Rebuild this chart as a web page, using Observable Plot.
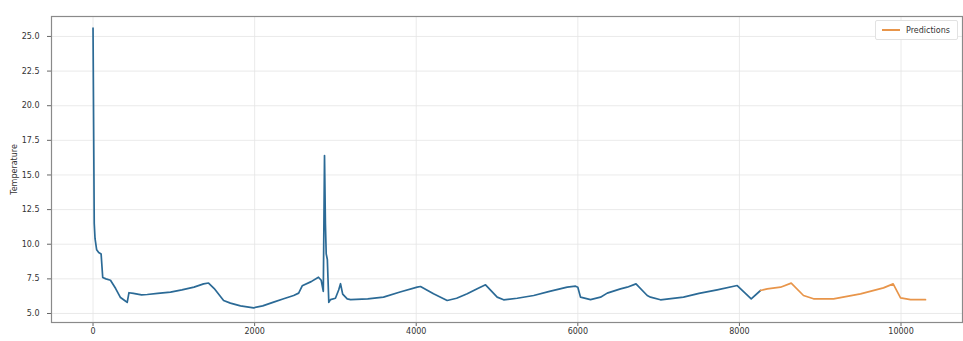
<!DOCTYPE html>
<html>
<head>
<meta charset="utf-8">
<script src="https://cdn.jsdelivr.net/npm/d3@7"></script>
<script src="https://cdn.jsdelivr.net/npm/@observablehq/plot@0.6"></script>
<style>
  html, body { margin: 0; padding: 0; background: #fff; }
  #wrap { position: relative; width: 963px; height: 341px; font-family: "DejaVu Sans", sans-serif; }
  #legend {
    position: absolute; left: 875px; top: 20px; width: 81px; height: 18px;
    background: #fff; border: 1px solid #e2e2e2; border-radius: 2px;
    display: flex; align-items: center; font-size: 8px; color: #333;
  }
  #legend svg { margin: 0 6px 0 6px; }
</style>
</head>
<body>
<div id="wrap">
  <div id="chart"></div>
  <div id="legend"><svg width="18" height="6"><line x1="0" y1="3" x2="18" y2="3" stroke="#e8954a" stroke-width="2"></line></svg><span>Predictions</span></div>
</div>
<script>
// Observed temperature series (sample index, value)
const obsIndex = [0, 15, 25, 45, 70, 100, 120, 160, 216, 280, 340, 400, 423, 445, 500, 600, 671, 800, 959, 1100, 1250, 1368, 1430, 1500, 1616, 1700, 1825, 1987, 2100, 2235, 2350, 2483, 2545, 2589, 2700, 2790, 2824, 2850, 2865, 2876, 2886, 2900, 2918, 2939, 3000, 3040, 3063, 3090, 3146, 3187, 3400, 3595, 3800, 4012, 4053, 4214, 4383, 4500, 4631, 4755, 4858, 5002, 5082, 5250, 5454, 5650, 5869, 5972, 6000, 6033, 6157, 6281, 6364, 6528, 6611, 6720, 6859, 6900, 7023, 7308, 7500, 7725, 7973, 8146, 8261];
const obsTemp = [25.6, 11.5, 10.4, 9.6, 9.4, 9.3, 7.6, 7.5, 7.4, 6.8, 6.15, 5.9, 5.8, 6.5, 6.45, 6.35, 6.37, 6.45, 6.54, 6.7, 6.9, 7.14, 7.2, 6.8, 5.94, 5.75, 5.55, 5.41, 5.55, 5.82, 6.05, 6.3, 6.47, 7.0, 7.3, 7.62, 7.4, 6.6, 16.4, 11.5, 9.3, 8.9, 5.8, 6.0, 6.1, 6.7, 7.15, 6.4, 6.06, 6.0, 6.05, 6.18, 6.55, 6.9, 6.95, 6.42, 5.94, 6.1, 6.42, 6.78, 7.07, 6.18, 5.99, 6.1, 6.3, 6.6, 6.9, 6.97, 6.9, 6.18, 6.0, 6.18, 6.47, 6.78, 6.9, 7.14, 6.3, 6.18, 5.99, 6.18, 6.45, 6.71, 7.02, 6.06, 6.66];

// Model predictions for the held-out tail
const predIndex = [8261, 8344, 8509, 8641, 8793, 8917, 9165, 9499, 9783, 9903, 9994, 10118, 10303];
const predTemp = [6.66, 6.78, 6.9, 7.19, 6.3, 6.06, 6.06, 6.42, 6.85, 7.14, 6.13, 6.0, 6.0];

// Axis ticks
const xTicks = [0, 2000, 4000, 6000, 8000, 10000];
const yTicks = [5.0, 7.5, 10.0, 12.5, 15.0, 17.5, 20.0, 22.5, 25.0];

const observed = obsIndex.map((x, i) => ({x, y: obsTemp[i]}));
const predicted = predIndex.map((x, i) => ({x, y: predTemp[i]}));

const chart = Plot.plot({
  width: 963,
  height: 341,
  marginLeft: 51,
  marginRight: 1,
  marginTop: 16,
  marginBottom: 19,
  style: {fontFamily: "DejaVu Sans, sans-serif", fontSize: "8px", color: "#333", background: "#fff"},
  x: {domain: [-514, 10761]},
  y: {domain: [4.35, 26.44]},
  marks: [
    Plot.gridX(xTicks, {stroke: "#e4e4e4", strokeOpacity: 1, strokeWidth: 0.8}),
    Plot.gridY(yTicks, {stroke: "#e4e4e4", strokeOpacity: 1, strokeWidth: 0.8}),
    Plot.axisX(xTicks, {tickFormat: d3.format("d"), tickSize: 4, tickPadding: 2, label: null, stroke: "#666", fontSize: 8}),
    Plot.axisY(yTicks, {tickFormat: d3.format(".1f"), tickSize: 4, tickPadding: 8, label: "Temperature", labelAnchor: "center", labelArrow: "none", labelOffset: 40, stroke: "#666", fontSize: 8}),
    Plot.line(observed, {x: "x", y: "y", stroke: "#2b6a96", strokeWidth: 1.7, strokeLinejoin: "round"}),
    Plot.line(predicted, {x: "x", y: "y", stroke: "#e8954a", strokeWidth: 1.7, strokeLinejoin: "round"}),
    Plot.frame({stroke: "#8a8a8a", strokeWidth: 1.2})
  ]
});

document.getElementById("chart").appendChild(chart);
</script>
</body>
</html>
